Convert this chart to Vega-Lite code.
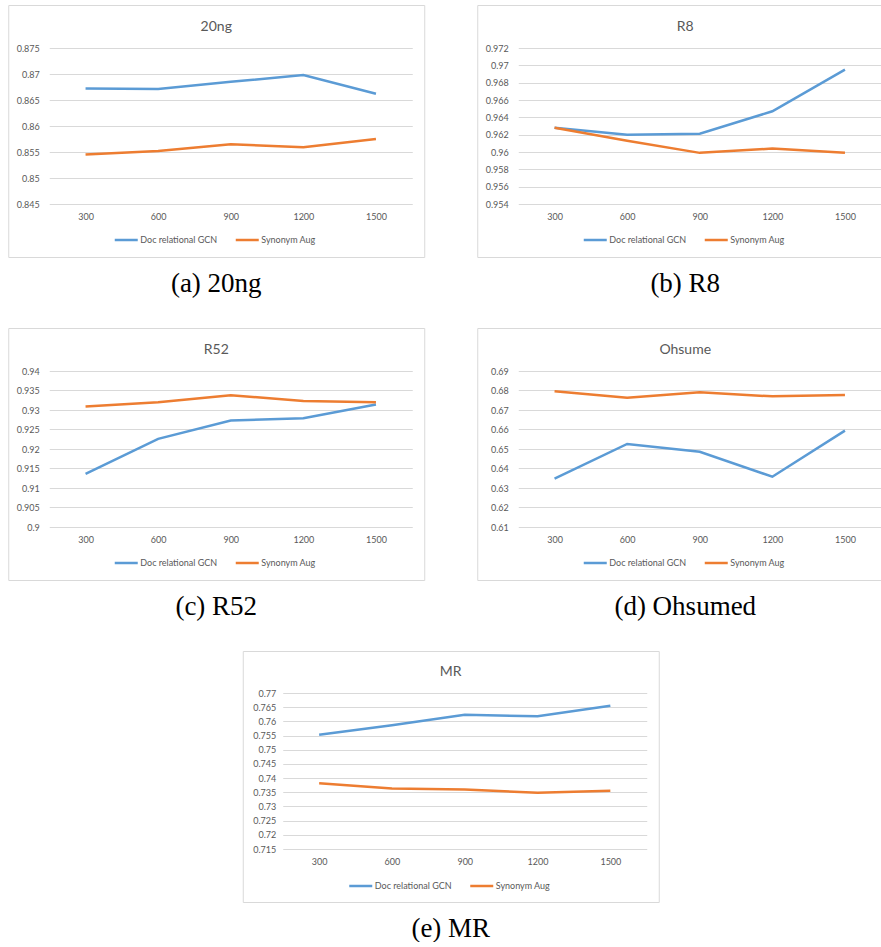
{
  "$schema": "https://vega.github.io/schema/vega-lite/v6.json",
  "padding": {"left": 7, "top": 4, "right": 0, "bottom": 0},
  "background": "white",
  "config": {
    "view": {"stroke": "#d9d9d9", "strokeWidth": 1},
    "axis": {"labelFont": "Lato", "labelFontSize": 9, "labelColor": "#595959", "domain": false, "ticks": false, "tickSize": 0, "title": null},
    "axisX": {"grid": false, "labelAngle": 0, "labelPadding": 8, "offset": -53},
    "axisY": {"grid": true, "gridColor": "#d9d9d9", "gridWidth": 1, "labelPadding": -31, "offset": 0, "format": ".3~f"},
    "legend": {"orient": "none", "legendX": 105, "legendY": 222, "direction": "horizontal", "title": null, "symbolType": "stroke", "symbolSize": 529, "symbolStrokeWidth": 3, "labelFont": "Lato", "labelFontSize": 9, "labelColor": "#595959", "labelOffset": 1, "columnPadding": 13, "padding": 0},
    "line": {"strokeWidth": 2.5}
  },
  "datasets": {
    "ng20": [
      {"dim": 300, "acc": 0.8672, "series": "Doc relational GCN"},
      {"dim": 600, "acc": 0.8671, "series": "Doc relational GCN"},
      {"dim": 900, "acc": 0.8685, "series": "Doc relational GCN"},
      {"dim": 1200, "acc": 0.8698, "series": "Doc relational GCN"},
      {"dim": 1500, "acc": 0.8662, "series": "Doc relational GCN"},
      {"dim": 300, "acc": 0.8545, "series": "Synonym Aug"},
      {"dim": 600, "acc": 0.8552, "series": "Synonym Aug"},
      {"dim": 900, "acc": 0.8565, "series": "Synonym Aug"},
      {"dim": 1200, "acc": 0.8559, "series": "Synonym Aug"},
      {"dim": 1500, "acc": 0.8575, "series": "Synonym Aug"}
    ],
    "r8": [
      {"dim": 300, "acc": 0.9628, "series": "Doc relational GCN"},
      {"dim": 600, "acc": 0.9620, "series": "Doc relational GCN"},
      {"dim": 900, "acc": 0.9621, "series": "Doc relational GCN"},
      {"dim": 1200, "acc": 0.9647, "series": "Doc relational GCN"},
      {"dim": 1500, "acc": 0.9695, "series": "Doc relational GCN"},
      {"dim": 300, "acc": 0.9628, "series": "Synonym Aug"},
      {"dim": 600, "acc": 0.9613, "series": "Synonym Aug"},
      {"dim": 900, "acc": 0.9599, "series": "Synonym Aug"},
      {"dim": 1200, "acc": 0.9604, "series": "Synonym Aug"},
      {"dim": 1500, "acc": 0.9599, "series": "Synonym Aug"}
    ],
    "r52": [
      {"dim": 300, "acc": 0.9136, "series": "Doc relational GCN"},
      {"dim": 600, "acc": 0.9226, "series": "Doc relational GCN"},
      {"dim": 900, "acc": 0.9273, "series": "Doc relational GCN"},
      {"dim": 1200, "acc": 0.9279, "series": "Doc relational GCN"},
      {"dim": 1500, "acc": 0.9314, "series": "Doc relational GCN"},
      {"dim": 300, "acc": 0.9309, "series": "Synonym Aug"},
      {"dim": 600, "acc": 0.9320, "series": "Synonym Aug"},
      {"dim": 900, "acc": 0.9338, "series": "Synonym Aug"},
      {"dim": 1200, "acc": 0.9323, "series": "Synonym Aug"},
      {"dim": 1500, "acc": 0.9320, "series": "Synonym Aug"}
    ],
    "ohsumed": [
      {"dim": 300, "acc": 0.6348, "series": "Doc relational GCN"},
      {"dim": 600, "acc": 0.6526, "series": "Doc relational GCN"},
      {"dim": 900, "acc": 0.6486, "series": "Doc relational GCN"},
      {"dim": 1200, "acc": 0.6358, "series": "Doc relational GCN"},
      {"dim": 1500, "acc": 0.6594, "series": "Doc relational GCN"},
      {"dim": 300, "acc": 0.6796, "series": "Synonym Aug"},
      {"dim": 600, "acc": 0.6763, "series": "Synonym Aug"},
      {"dim": 900, "acc": 0.6791, "series": "Synonym Aug"},
      {"dim": 1200, "acc": 0.6770, "series": "Synonym Aug"},
      {"dim": 1500, "acc": 0.6777, "series": "Synonym Aug"}
    ],
    "mr": [
      {"dim": 300, "acc": 0.7553, "series": "Doc relational GCN"},
      {"dim": 600, "acc": 0.7586, "series": "Doc relational GCN"},
      {"dim": 900, "acc": 0.7623, "series": "Doc relational GCN"},
      {"dim": 1200, "acc": 0.7618, "series": "Doc relational GCN"},
      {"dim": 1500, "acc": 0.7655, "series": "Doc relational GCN"},
      {"dim": 300, "acc": 0.7382, "series": "Synonym Aug"},
      {"dim": 600, "acc": 0.7363, "series": "Synonym Aug"},
      {"dim": 900, "acc": 0.7360, "series": "Synonym Aug"},
      {"dim": 1200, "acc": 0.7348, "series": "Synonym Aug"},
      {"dim": 1500, "acc": 0.7355, "series": "Synonym Aug"}
    ]
  },
  "center": true,
  "spacing": 30,
  "resolve": {"scale": {"color": "independent"}, "legend": {"color": "independent"}},
  "vconcat": [
    {
      "spacing": 51,
      "resolve": {"scale": {"color": "independent"}, "legend": {"color": "independent"}},
      "hconcat": [
        {
          "title": {"text": "(a) 20ng", "orient": "bottom", "anchor": "middle", "font": "Liberation Serif", "fontSize": 27, "fontWeight": "normal", "color": "black", "baseline": "top", "offset": 13},
          "resolve": {"scale": {"color": "independent"}, "legend": {"color": "independent"}},
          "vconcat": [
            {
              "width": 416, "height": 252,
              "title": {"text": "20ng", "font": "Lato", "fontSize": 14, "fontWeight": "normal", "color": "#595959", "anchor": "middle", "frame": "group", "baseline": "alphabetic", "offset": -40},
              "data": {"name": "ng20"},
              "mark": {"type": "line"},
              "encoding": {
                "x": {"field": "dim", "type": "ordinal", "scale": {"type": "point", "range": [41, 404], "padding": 0.5}},
                "y": {"field": "acc", "type": "quantitative", "scale": {"domain": [0.845, 0.875], "range": [199, 43], "nice": false, "zero": false}, "axis": {"values": [0.845, 0.85, 0.855, 0.86, 0.865, 0.87, 0.875]}},
                "color": {"field": "series", "type": "nominal", "scale": {"domain": ["Doc relational GCN", "Synonym Aug"], "range": ["#5b9bd5", "#ed7d31"]}}
              }
            }
          ]
        },
        {
          "title": {"text": "(b) R8", "orient": "bottom", "anchor": "middle", "font": "Liberation Serif", "fontSize": 27, "fontWeight": "normal", "color": "black", "baseline": "top", "offset": 13},
          "resolve": {"scale": {"color": "independent"}, "legend": {"color": "independent"}},
          "vconcat": [
            {
              "width": 416, "height": 252,
              "title": {"text": "R8", "font": "Lato", "fontSize": 14, "fontWeight": "normal", "color": "#595959", "anchor": "middle", "frame": "group", "baseline": "alphabetic", "offset": -40},
              "data": {"name": "r8"},
              "mark": {"type": "line"},
              "encoding": {
                "x": {"field": "dim", "type": "ordinal", "scale": {"type": "point", "range": [41, 404], "padding": 0.5}},
                "y": {"field": "acc", "type": "quantitative", "scale": {"domain": [0.954, 0.972], "range": [199, 43], "nice": false, "zero": false}, "axis": {"values": [0.954, 0.956, 0.958, 0.96, 0.962, 0.964, 0.966, 0.968, 0.97, 0.972]}},
                "color": {"field": "series", "type": "nominal", "scale": {"domain": ["Doc relational GCN", "Synonym Aug"], "range": ["#5b9bd5", "#ed7d31"]}}
              }
            }
          ]
        }
      ]
    },
    {
      "spacing": 51,
      "resolve": {"scale": {"color": "independent"}, "legend": {"color": "independent"}},
      "hconcat": [
        {
          "title": {"text": "(c) R52", "orient": "bottom", "anchor": "middle", "font": "Liberation Serif", "fontSize": 27, "fontWeight": "normal", "color": "black", "baseline": "top", "offset": 13},
          "resolve": {"scale": {"color": "independent"}, "legend": {"color": "independent"}},
          "vconcat": [
            {
              "width": 416, "height": 252,
              "title": {"text": "R52", "font": "Lato", "fontSize": 14, "fontWeight": "normal", "color": "#595959", "anchor": "middle", "frame": "group", "baseline": "alphabetic", "offset": -40},
              "data": {"name": "r52"},
              "mark": {"type": "line"},
              "encoding": {
                "x": {"field": "dim", "type": "ordinal", "scale": {"type": "point", "range": [41, 404], "padding": 0.5}},
                "y": {"field": "acc", "type": "quantitative", "scale": {"domain": [0.9, 0.94], "range": [199, 43], "nice": false, "zero": false}, "axis": {"values": [0.9, 0.905, 0.91, 0.915, 0.92, 0.925, 0.93, 0.935, 0.94]}},
                "color": {"field": "series", "type": "nominal", "scale": {"domain": ["Doc relational GCN", "Synonym Aug"], "range": ["#5b9bd5", "#ed7d31"]}}
              }
            }
          ]
        },
        {
          "title": {"text": "(d) Ohsumed", "orient": "bottom", "anchor": "middle", "font": "Liberation Serif", "fontSize": 27, "fontWeight": "normal", "color": "black", "baseline": "top", "offset": 13},
          "resolve": {"scale": {"color": "independent"}, "legend": {"color": "independent"}},
          "vconcat": [
            {
              "width": 416, "height": 252,
              "title": {"text": "Ohsume", "font": "Lato", "fontSize": 14, "fontWeight": "normal", "color": "#595959", "anchor": "middle", "frame": "group", "baseline": "alphabetic", "offset": -40},
              "data": {"name": "ohsumed"},
              "mark": {"type": "line"},
              "encoding": {
                "x": {"field": "dim", "type": "ordinal", "scale": {"type": "point", "range": [41, 404], "padding": 0.5}},
                "y": {"field": "acc", "type": "quantitative", "scale": {"domain": [0.61, 0.69], "range": [199, 43], "nice": false, "zero": false}, "axis": {"values": [0.61, 0.62, 0.63, 0.64, 0.65, 0.66, 0.67, 0.68, 0.69]}},
                "color": {"field": "series", "type": "nominal", "scale": {"domain": ["Doc relational GCN", "Synonym Aug"], "range": ["#5b9bd5", "#ed7d31"]}}
              }
            }
          ]
        }
      ]
    },
    {
      "title": {"text": "(e) MR", "orient": "bottom", "anchor": "middle", "font": "Liberation Serif", "fontSize": 27, "fontWeight": "normal", "color": "black", "baseline": "top", "offset": 13},
      "resolve": {"scale": {"color": "independent"}, "legend": {"color": "independent"}},
      "vconcat": [
        {
          "width": 416, "height": 251,
          "title": {"text": "MR", "font": "Lato", "fontSize": 14, "fontWeight": "normal", "color": "#595959", "anchor": "middle", "frame": "group", "baseline": "alphabetic", "offset": -39},
          "data": {"name": "mr"},
          "mark": {"type": "line"},
          "encoding": {
            "x": {"field": "dim", "type": "ordinal", "scale": {"type": "point", "range": [40, 404], "padding": 0.5}},
            "y": {"field": "acc", "type": "quantitative", "scale": {"domain": [0.715, 0.77], "range": [198, 42], "nice": false, "zero": false}, "axis": {"values": [0.715, 0.72, 0.725, 0.73, 0.735, 0.74, 0.745, 0.75, 0.755, 0.76, 0.765, 0.77], "labelPadding": -33}},
            "color": {"field": "series", "type": "nominal", "scale": {"domain": ["Doc relational GCN", "Synonym Aug"], "range": ["#5b9bd5", "#ed7d31"]}}
          }
        }
      ]
    }
  ]
}
